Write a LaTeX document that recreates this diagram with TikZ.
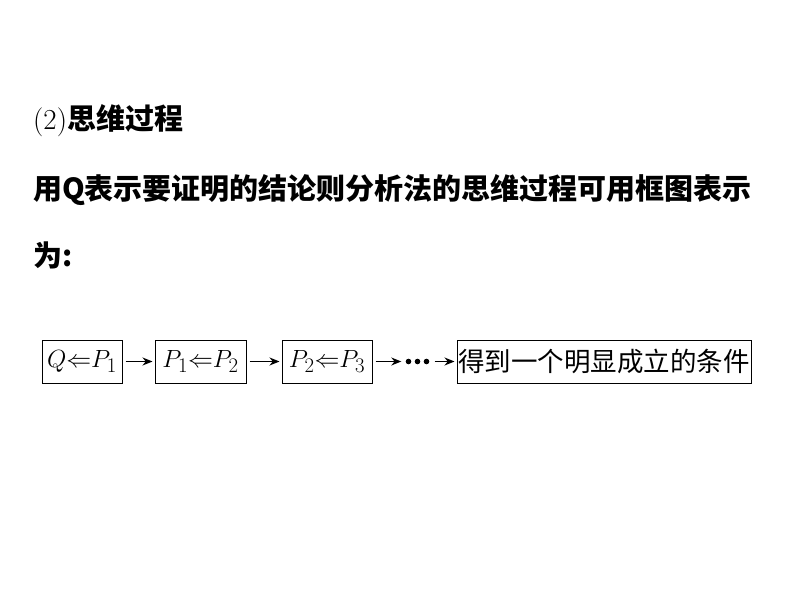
\documentclass[tikz,border=0pt]{standalone}
\usepackage{fontspec}
\newfontfamily\cjk{Noto Sans CJK SC}
\usetikzlibrary{arrows.meta}
\tikzset{
  box/.style={draw=black, line width=1pt, inner sep=0pt, minimum height=43pt, font=\fontsize{27.5}{30}\selectfont},
  line/.style={anchor=west, inner sep=0pt, font=\cjk\bfseries\fontsize{29}{32}\selectfont},
  link/.style={-{Stealth[length=10pt,width=8pt]}, line width=1.2pt, shorten <=3pt, shorten >=2pt}
}
\begin{document}
\begin{tikzpicture}[x=1pt, y=-1pt]
\useasboundingbox (0,0) rectangle (794,596);
% text above the chart
\node [line] (title) at (33,121) {{\mdseries\rmfamily(2)}思维过程};
\node [line] (text1) at (33,190) {用Q表示要证明的结论则分析法的思维过程可用框图表示};
\node [line] (text2) at (33,255) {为:};
% the chart
\node [box, minimum width=80pt] (b1) at (82,361.5) {$Q{\Leftarrow}P_1$};
\node [box, minimum width=91pt] (b2) at (200.5,361.5) {$P_1{\Leftarrow}P_2$};
\node [box, minimum width=90pt] (b3) at (327,361.5) {$P_2{\Leftarrow}P_3$};
\node [inner sep=0pt, minimum width=28pt, minimum height=10pt] (dots) at (417.5,361.5) {};
\node [box, minimum width=294pt, font=\cjk\fontsize{26.5}{30}\selectfont] (b4) at (604,361.5) {得到一个明显成立的条件};
\foreach \i in {-9,0,9}
  \fill (dots.center) ++(\i,0) circle (2.8pt);
\draw [link] (b1) -- (b2);
\draw [link] (b2) -- (b3);
\draw [link] (b3) -- (dots);
\draw [link] (dots) -- (b4);
\end{tikzpicture}
\end{document}
